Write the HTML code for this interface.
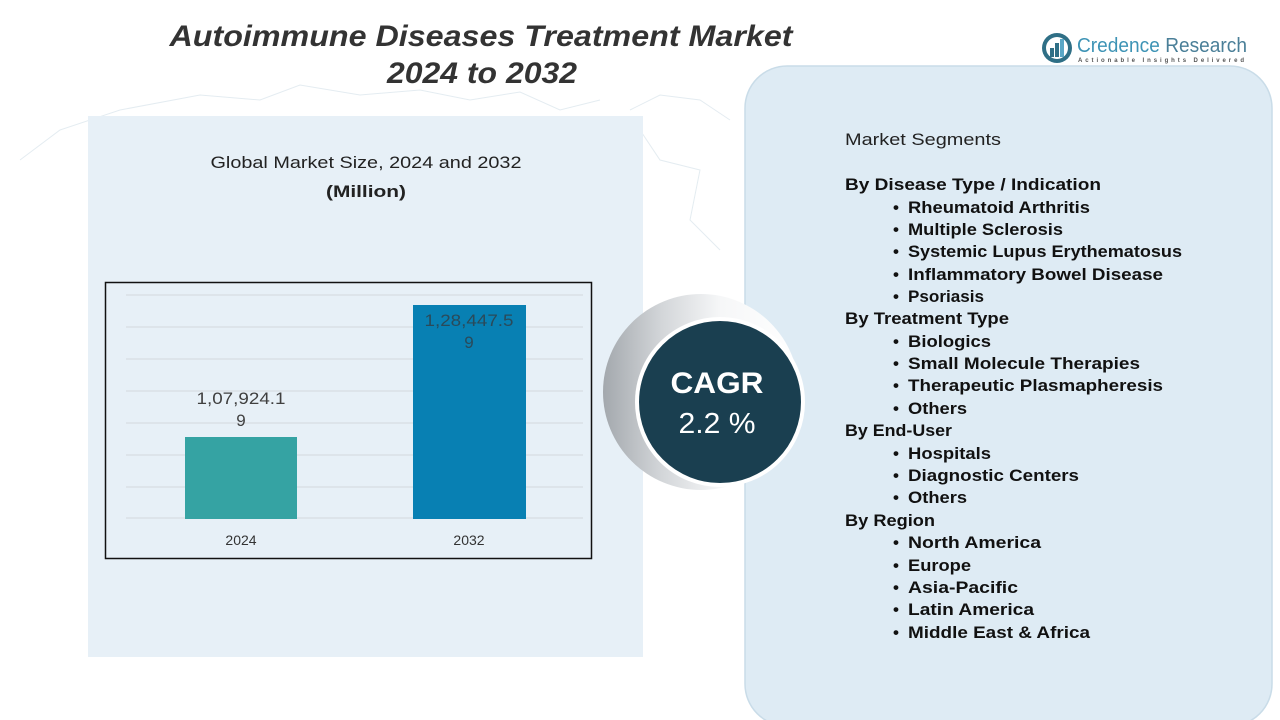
<!DOCTYPE html>
<html>
<head>
<meta charset="utf-8">
<style>
  html,body{margin:0;padding:0;background:#ffffff;}
  body{width:1280px;height:720px;overflow:hidden;}
  svg{display:block;}
  text{font-family:"Liberation Sans",sans-serif;}
</style>
</head>
<body>
<svg width="1280" height="720" viewBox="0 0 1280 720" xmlns="http://www.w3.org/2000/svg">
  <defs>
    <linearGradient id="cres" x1="0" y1="0" x2="1" y2="0">
      <stop offset="0" stop-color="#a3a8ad"/>
      <stop offset="0.3" stop-color="#d3d6d9"/>
      <stop offset="0.6" stop-color="#f6f7f8"/>
      <stop offset="1" stop-color="#ffffff"/>
    </linearGradient>
  </defs>

  <rect x="0" y="0" width="1280" height="720" fill="#ffffff"/>

  <!-- faint map hints -->
  <g fill="none" stroke="#e4ecf1" stroke-width="1">
    <path d="M20 160 L60 130 L120 110 L200 95 L260 100 L300 85 L360 95 L420 90 L470 100 L520 92 L560 110 L600 100"/>
    <path d="M630 110 L660 95 L700 100 L730 120"/>
    <path d="M640 130 L660 160 L700 170 L690 220 L720 250"/>
  </g>

  <!-- left panel -->
  <rect x="88" y="116" width="555" height="541" fill="#e7f0f7"/>

  <!-- right panel -->
  <rect x="745" y="66" width="527" height="660" rx="42" ry="42" fill="#deebf4" stroke="#c9dce8" stroke-width="1.5"/>

  <!-- Title -->
  <text x="481" y="46" text-anchor="middle" font-size="30" font-weight="bold" font-style="italic" fill="#333333" textLength="623" lengthAdjust="spacingAndGlyphs">Autoimmune Diseases Treatment Market</text>
  <text x="482" y="83" text-anchor="middle" font-size="30" font-weight="bold" font-style="italic" fill="#333333" textLength="190" lengthAdjust="spacingAndGlyphs">2024 to 2032</text>

  <!-- Logo -->
  <g>
    <circle cx="1057" cy="48" r="15" fill="#2f6f86"/>
    <circle cx="1057" cy="48" r="11" fill="#ffffff"/>
    <rect x="1050" y="48" width="4" height="9" fill="#2f6f86"/>
    <rect x="1055" y="43" width="4" height="14" fill="#2f6f86"/>
    <rect x="1060" y="39" width="4" height="18" fill="#5aa7c6"/>
    <text x="1077" y="52" font-size="20" fill="#3d93b5" textLength="170" lengthAdjust="spacingAndGlyphs">Credence <tspan fill="#4a7f98">Research</tspan></text>
    <text x="1078" y="62" font-size="6" font-weight="bold" fill="#555555" textLength="166" lengthAdjust="spacing">Actionable Insights Delivered</text>
  </g>

  <!-- Subtitle -->
  <text x="366" y="168" text-anchor="middle" font-size="17" fill="#222222" textLength="311" lengthAdjust="spacingAndGlyphs">Global Market Size,  2024 and 2032</text>
  <text x="366" y="197" text-anchor="middle" font-size="17" font-weight="bold" fill="#222222" textLength="80" lengthAdjust="spacingAndGlyphs">(Million)</text>

  <!-- Chart box -->
  <rect x="105.5" y="282.5" width="486" height="276" fill="none" stroke="#111111" stroke-width="1.5"/>
  <g stroke="#d3d8dc" stroke-width="1">
    <line x1="126" y1="295" x2="583" y2="295"/>
    <line x1="126" y1="327" x2="583" y2="327"/>
    <line x1="126" y1="359" x2="583" y2="359"/>
    <line x1="126" y1="391" x2="583" y2="391"/>
    <line x1="126" y1="423" x2="583" y2="423"/>
    <line x1="126" y1="455" x2="583" y2="455"/>
    <line x1="126" y1="487" x2="583" y2="487"/>
    <line x1="126" y1="518" x2="583" y2="518"/>
  </g>
  <rect x="185" y="437" width="112" height="82" fill="#35a3a3"/>
  <rect x="413" y="305" width="113" height="214" fill="#0880b3"/>

  <text x="241" y="404" text-anchor="middle" font-size="17" fill="#404040" textLength="89" lengthAdjust="spacingAndGlyphs">1,07,924.1</text>
  <text x="241" y="426" text-anchor="middle" font-size="17" fill="#404040">9</text>
  <text x="469" y="326" text-anchor="middle" font-size="17" fill="#2a4a5a" textLength="89" lengthAdjust="spacingAndGlyphs">1,28,447.5</text>
  <text x="469" y="348" text-anchor="middle" font-size="17" fill="#2a4a5a">9</text>

  <text x="241" y="545" text-anchor="middle" font-size="14" fill="#333333">2024</text>
  <text x="469" y="545" text-anchor="middle" font-size="14" fill="#333333">2032</text>

  <!-- CAGR circle -->
  <circle cx="701" cy="392" r="98" fill="url(#cres)"/>
  <circle cx="720" cy="402" r="83" fill="#1a3f50" stroke="#ffffff" stroke-width="4"/>
  <text x="717" y="393" text-anchor="middle" font-size="30" font-weight="bold" fill="#ffffff" textLength="93" lengthAdjust="spacingAndGlyphs">CAGR</text>
  <text x="717" y="433" text-anchor="middle" font-size="29" fill="#ffffff" textLength="77" lengthAdjust="spacingAndGlyphs">2.2 %</text>

  <!-- Segments -->
  <text x="845" y="145" font-size="17" fill="#222222" textLength="156" lengthAdjust="spacingAndGlyphs">Market Segments</text>
  <g font-size="17" font-weight="bold" fill="#111111">
    <text x="845" y="190" textLength="256" lengthAdjust="spacingAndGlyphs">By Disease Type / Indication</text>
    <text x="893" y="213">•</text><text x="908" y="213" textLength="182" lengthAdjust="spacingAndGlyphs">Rheumatoid Arthritis</text>
    <text x="893" y="235">•</text><text x="908" y="235" textLength="155" lengthAdjust="spacingAndGlyphs">Multiple Sclerosis</text>
    <text x="893" y="257">•</text><text x="908" y="257" textLength="274" lengthAdjust="spacingAndGlyphs">Systemic Lupus Erythematosus</text>
    <text x="893" y="280">•</text><text x="908" y="280" textLength="255" lengthAdjust="spacingAndGlyphs">Inflammatory Bowel Disease</text>
    <text x="893" y="302">•</text><text x="908" y="302" textLength="76" lengthAdjust="spacingAndGlyphs">Psoriasis</text>
    <text x="845" y="324" textLength="164" lengthAdjust="spacingAndGlyphs">By Treatment Type</text>
    <text x="893" y="347">•</text><text x="908" y="347" textLength="83" lengthAdjust="spacingAndGlyphs">Biologics</text>
    <text x="893" y="369">•</text><text x="908" y="369" textLength="232" lengthAdjust="spacingAndGlyphs">Small Molecule Therapies</text>
    <text x="893" y="391">•</text><text x="908" y="391" textLength="255" lengthAdjust="spacingAndGlyphs">Therapeutic Plasmapheresis</text>
    <text x="893" y="414">•</text><text x="908" y="414" textLength="59" lengthAdjust="spacingAndGlyphs">Others</text>
    <text x="845" y="436" textLength="107" lengthAdjust="spacingAndGlyphs">By End-User</text>
    <text x="893" y="459">•</text><text x="908" y="459" textLength="83" lengthAdjust="spacingAndGlyphs">Hospitals</text>
    <text x="893" y="481">•</text><text x="908" y="481" textLength="171" lengthAdjust="spacingAndGlyphs">Diagnostic Centers</text>
    <text x="893" y="503">•</text><text x="908" y="503" textLength="59" lengthAdjust="spacingAndGlyphs">Others</text>
    <text x="845" y="526" textLength="90" lengthAdjust="spacingAndGlyphs">By Region</text>
    <text x="893" y="548">•</text><text x="908" y="548" textLength="133" lengthAdjust="spacingAndGlyphs">North America</text>
    <text x="893" y="571">•</text><text x="908" y="571" textLength="63" lengthAdjust="spacingAndGlyphs">Europe</text>
    <text x="893" y="593">•</text><text x="908" y="593" textLength="110" lengthAdjust="spacingAndGlyphs">Asia-Pacific</text>
    <text x="893" y="615">•</text><text x="908" y="615" textLength="126" lengthAdjust="spacingAndGlyphs">Latin America</text>
    <text x="893" y="638">•</text><text x="908" y="638" textLength="182" lengthAdjust="spacingAndGlyphs">Middle East &amp; Africa</text>
  </g>
</svg>
</body>
</html>
